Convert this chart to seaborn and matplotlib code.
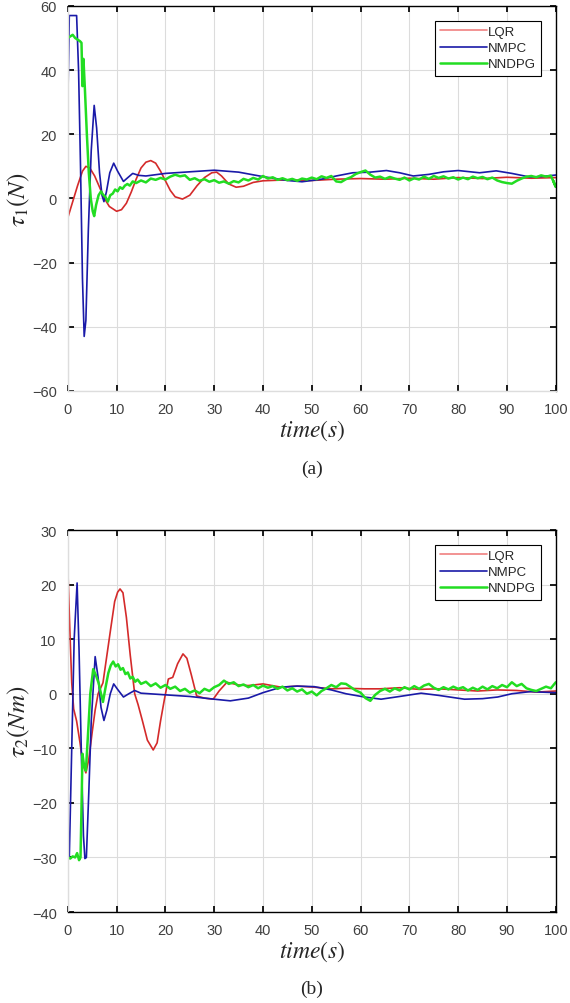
import numpy as np
import pandas as pd
import seaborn as sns
import matplotlib.pyplot as plt

# ---------------------------------------------------------------------------
# Data
# (a) tau_1 (N)
t1_lqr = [0, 1, 2, 3, 3.7, 4.5, 5.5, 6.5, 7.5, 8.5, 10, 11, 12, 13, 14, 15, 16, 17, 18, 19,
          20, 21, 22, 23.5, 25, 26.5, 28, 29.5, 30.5, 31.5, 33, 34.5, 36, 38, 40, 45, 50, 55,
          60, 65, 70, 75, 80, 85, 90, 95, 100]
v1_lqr = [-6, -1, 4, 8.5, 10, 9.5, 7, 3.5, 0, -2.5, -4, -3.5, -1.5, 2, 6, 9.5, 11.3, 11.8, 11, 8.5,
          5.5, 2.5, 0.5, -0.2, 1, 4, 6.5, 8, 8.2, 7, 4.5, 3.5, 3.8, 5, 5.5, 5.8, 5.6, 6,
          6.2, 6, 6.3, 6, 6.5, 6.2, 6.6, 6.3, 6.5]

t1_nmpc = [0, 0.3, 1.8, 2.2, 2.6, 3.0, 3.35, 3.7, 4.2, 4.8, 5.4, 5.9, 6.5, 7.0, 7.4, 7.9, 8.6, 9.4,
           10.2, 11.4, 12.3, 13.3, 14.5, 16, 20, 25, 30, 35, 40, 45, 48, 52, 55, 58.4, 62, 65.3,
           68, 70.8, 74, 77, 80, 84.4, 87.8, 91, 94.6, 97, 100]
v1_nmpc = [29.5, 57, 57, 40, 10, -25, -43, -38, -10, 15, 29, 22, 8, 1, -1, 2, 8, 11,
           8.5, 5.3, 6.5, 7.8, 7.2, 7, 7.8, 8.3, 8.8, 8.2, 6.8, 5.6, 5.2, 6, 7, 8, 8.2, 8.7,
           8, 7, 7.5, 8.3, 8.7, 8.0, 8.6, 7.8, 6.7, 6.8, 7.3]

t1_nndpg = [0, 0.5, 1, 1.5, 2, 2.5, 2.8, 3.0, 3.2, 3.5, 3.9, 4.3, 4.7, 5.1, 5.4, 5.8, 6.3, 6.8,
            7.2, 7.7, 8.2, 8.7, 9.2, 9.7, 10.2, 10.7, 11.2, 11.7, 12.2, 12.7, 13.3] + list(range(14, 101)) + [99.5]
v1_nndpg = [50, 50.5, 51, 50, 49.5, 49, 48.5, 35, 43.5, 34, 20, 8, 0, -4, -5.5, -2, 1, 2.2,
            1.2, 0.5, -1, 1, 1.5, 2.8, 2.2, 3.5, 3, 4, 4.5, 4, 5.3,
            4.8, 5.6, 5.0, 6.2, 5.8, 6.4, 5.9, 6.8, 7.4, 6.9, 7.2, 5.8, 6.3, 5.5, 6.0, 5.2,
            5.7, 4.9, 5.3, 4.6, 5.4, 5.0, 6.1, 5.6, 6.4, 5.9, 7.0, 6.2, 6.6, 5.8, 6.3, 5.7,
            6.1, 5.5, 6.2, 5.9, 6.5, 6.0, 6.9, 6.4, 7.0, 5.3, 5.1, 6.0, 6.6, 7.6, 8.2, 8.7,
            7.4, 6.5, 6.8, 6.1, 6.7, 6.2, 5.8, 6.5, 5.6, 6.3, 5.9, 6.8, 6.1, 7.0, 6.4, 6.9,
            6.2, 6.6, 5.9, 6.5, 6.0, 6.8, 6.3, 6.7, 6.0, 6.5, 5.6, 5.1, 4.8, 4.6, 5.5, 6.2,
            6.8, 7.0, 6.6, 7.2, 6.8, 7.1, 3.6, 5.5]

# (b) tau_2 (Nm)
t2_lqr = [0, 0.4, 0.8, 1.2, 1.8, 2.5, 3.1, 3.7, 4.3, 5.0, 5.6, 6.2, 7.2, 8.0, 8.8, 9.6, 10.2, 10.7,
          11.3, 12, 12.8, 13.7, 14.4, 15.3, 16.3, 17.5, 18.3, 19, 19.8, 20.6, 21.5, 22.5, 23.6,
          24.4, 25.3, 26.4, 28, 29.8, 31, 32.6, 35, 37, 40, 43.7, 47, 50.5, 54, 57, 60.8, 64,
          68, 72, 76, 80, 84, 88, 92, 96, 100]
v2_lqr = [23, 12, 2, -2.8, -5, -9, -13, -14.5, -12, -7, -3, 0, 2, 7, 12, 16.9, 18.6, 19.2,
          18.5, 14, 7, 0, -2, -5, -8.5, -10.3, -9, -5, -1, 2.7, 3, 5.5, 7.3,
          6.5, 3.5, -0.4, -0.8, -1, 0.5, 2.1, 1.6, 1.5, 1.8, 1.2, 1.4, 1.2, 0.9, 1.0, 0.9, 0.9,
          1.1, 0.8, 0.9, 0.7, 0.5, 0.7, 0.6, 0.3, 0.5]

t2_nmpc = [0, 0.3, 0.8, 1.3, 1.9, 2.3, 2.8, 3.2, 3.5, 3.8, 4.3, 4.8, 5.6, 6.2, 6.8, 7.4, 8.0, 8.7,
           9.4, 10.2, 11.4, 12.5, 13.7, 15, 20, 25, 30, 33.3, 37, 40, 43.7, 47, 50.5, 54, 57,
           60.8, 64.2, 68, 72.4, 76, 81.3, 85, 88.1, 91, 94.9, 97, 100]
v2_nmpc = [-27, -30, -10, 10, 20.3, 8, -12, -26, -30.2, -30, -18, -5, 6.8, 3, -2.5, -4.9, -3, 0,
           1.8, 0.8, -0.6, 0, 0.6, 0.1, -0.2, -0.5, -1.0, -1.3, -0.8, 0.2, 1.2, 1.4, 1.3, 0.7, 0,
           -0.6, -1.0, -0.5, 0.1, -0.3, -1.0, -0.9, -0.6, 0, 0.4, 0.3, 0.2]

t2_nndpg = [0, 0.5, 1, 1.5, 1.9, 2.3, 2.6, 2.8, 3.0, 3.3, 3.7, 4.1, 4.6, 5.2, 5.7, 6.3, 6.8, 7.2,
            7.7, 8.3, 8.8, 9.3, 9.8, 10.3, 10.8, 11.3, 11.8, 12.3, 12.8, 13.3, 13.8, 14.3] + list(range(15, 101))
v2_nndpg = [-30, -30.2, -29.8, -30, -29.2, -30.5, -30, -21, -11, -13, -14.1, -8, 0, 4.5, 3.5, 2, 0, -1.5,
            1, 3.8, 5.2, 5.9, 5.0, 5.4, 4.4, 4.7, 3.6, 3.9, 2.8, 3.1, 2.2, 2.6,
            1.8, 2.2, 1.4, 1.9, 1.1, 1.6, 0.9, 1.3, 0.5, 0.9, 0.2, 0.6, 0.1, 0.9, 0.5, 1.2,
            1.6, 2.4, 1.8, 2.1, 1.4, 1.7, 1.2, 1.6, 1.0, 1.5, 1.1, 1.4, 0.9, 1.3, 0.6, 1.0,
            0.4, 0.8, 0.0, 0.4, -0.3, 0.5, 1.0, 1.6, 1.2, 1.9, 1.8, 1.2, 0.6, 0.2, -0.8, -1.3,
            -0.2, 0.5, 0.9, 0.4, 1.0, 0.6, 1.2, 0.8, 1.4, 0.9, 1.5, 1.8, 1.1, 0.7, 1.2, 0.8,
            1.3, 0.9, 1.2, 0.6, 1.1, 0.7, 1.3, 0.8, 1.4, 1.0, 1.6, 1.2, 2.1, 1.4, 1.8, 1.0,
            0.7, 0.5, 0.9, 1.3, 1.0, 2.1]

series_names = ['LQR', 'NMPC', 'NNDPG']
colors = ['#d42a2a', '#1a1aa8', '#22dd22']

# ---------------------------------------------------------------------------
sns.set_theme(style='whitegrid')
plt.rcParams['font.family'] = ['Liberation Sans', 'DejaVu Sans']
plt.rcParams['mathtext.fontset'] = 'stix'

fig = plt.figure(figsize=(5.7, 10.04), dpi=100)
ax1 = fig.add_axes([0.119, 0.6096, 0.856, 0.3835])
ax2 = fig.add_axes([0.119, 0.0906, 0.856, 0.3805])


def draw_panel(ax, data, ylim, yticks, ylabel, tag):
    for (t, v), name, c in zip(data, series_names, colors):
        lw = 1.8 if name == 'NNDPG' else 1.2
        sns.lineplot(x=t, y=v, ax=ax, color=c, lw=lw, label=name, sort=False, estimator=None)
    ax.set_xlim(0, 100)
    ax.set_ylim(*ylim)
    ax.set_xticks(range(0, 101, 10))
    ax.set_yticks(yticks)
    ax.grid(True, color='#dcdcdc', lw=0.8)
    ax.tick_params(direction='in', length=4, color='black', labelsize=10.5,
                   labelcolor='#404040', top=True, right=True, bottom=True, left=True, pad=8)
    for s in ax.spines.values():
        s.set_color('black')
        s.set_linewidth(1.0)
    ax.spines['left'].set_color('#dddddd')
    ax.set_xlabel(r'$time(s)$', fontsize=17, labelpad=1)
    ax.set_ylabel(ylabel, fontsize=18, labelpad=0)
    ax.text(0.5, -0.2, tag, transform=ax.transAxes, ha='center', va='center',
            fontsize=14, family='Liberation Serif')
    leg = ax.legend(loc='upper right', bbox_to_anchor=(0.97, 0.962), fontsize=9.5,
                    handlelength=3.5, handletextpad=0.1, borderpad=0.4, labelspacing=0.3,
                    fancybox=False, framealpha=1, borderaxespad=0)
    leg.get_frame().set_edgecolor('black')
    leg.get_frame().set_linewidth(0.8)
    # legend LQR handle looks lighter in the reference
    leg.get_lines()[0].set_color('#f08080')


draw_panel(ax1, [(t1_lqr, v1_lqr), (t1_nmpc, v1_nmpc), (t1_nndpg, v1_nndpg)],
           (-60, 60), range(-60, 61, 20), r'$\tau_1(N)$', '(a)')
ax1.spines['bottom'].set_color('#dddddd')
draw_panel(ax2, [(t2_lqr, v2_lqr), (t2_nmpc, v2_nmpc), (t2_nndpg, v2_nndpg)],
           (-40, 30), range(-40, 31, 10), r'$\tau_2(Nm)$', '(b)')

fig.savefig('out.png', dpi=100)
